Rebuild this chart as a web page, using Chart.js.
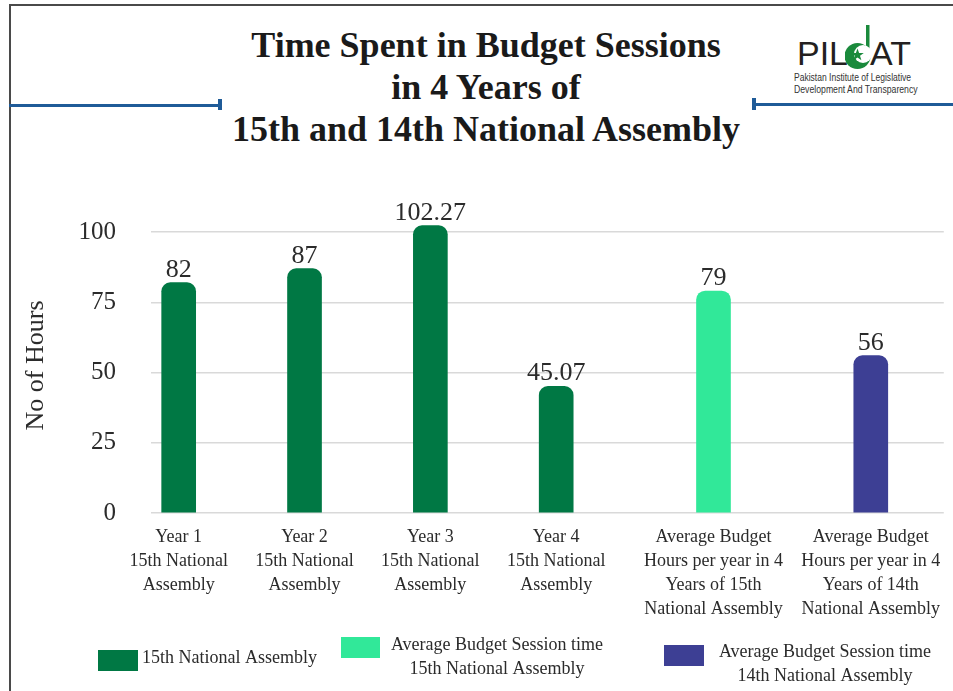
<!DOCTYPE html>
<html>
<head>
<meta charset="utf-8">
<script src="https://cdn.jsdelivr.net/npm/chart.js@4/dist/chart.umd.min.js"></script>
<style>
  body { margin: 0; background: #fff; }
  #wrap { position: relative; width: 953px; height: 691px; overflow: hidden; }
  .frame { position: absolute; left: 9px; top: 4px; width: 980px; height: 720px; border-left: 2px solid #4a4a4a; border-top: 2px solid #4a4a4a; }
  .title { position: absolute; left: 0; top: 24px; width: 972px; text-align: center; font: bold 36px/42px 'Liberation Serif', 'Times New Roman', serif; color: #1a1a1a; }
  .rule { position: absolute; background: #1f5b98; }
  .logo-txt { position: absolute; top: 36px; font: 34px/34px 'Liberation Sans', Arial, sans-serif; color: #231f20; }
  .logo-sub { position: absolute; left: 794px; font: 11px/11px 'Liberation Sans', Arial, sans-serif; color: #333; white-space: nowrap; transform-origin: 0 0; }
  canvas { position: absolute; left: 0; top: 0; }
</style>
</head>
<body>
<div id="wrap">
  <div class="frame"></div>
  <div class="title">Time Spent in Budget Sessions<br>in 4 Years of<br>15th and 14th National Assembly</div>

  <div class="rule" style="left:9px;top:104px;width:212px;height:3px"></div>
  <div class="rule" style="left:218px;top:99px;width:4px;height:11px"></div>
  <div class="rule" style="left:752px;top:98px;width:4px;height:12px"></div>
  <div class="rule" style="left:754px;top:103px;width:199px;height:3px"></div>

  <div class="logo-txt" style="left:797px">PIL</div>
  <svg style="position:absolute;left:845px;top:24px" width="28" height="48" viewBox="0 0 28 48">
    <rect x="21" y="1" width="3.5" height="26" fill="#1a8a3c"/>
    <circle cx="12.5" cy="32" r="13" fill="#1a8a3c"/>
    <circle cx="18" cy="30" r="9" fill="#fff"/>
    <polygon points="12.5,24.5 14.1,29 18.8,29 15,31.8 16.4,36.3 12.5,33.6 8.6,36.3 10,31.8 6.2,29 10.9,29" fill="#1a8a3c"/>
  </svg>
  <div class="logo-txt" style="left:870px">AT</div>
  <div class="logo-sub" style="top:72px" data-w="117">Pakistan Institute of Legislative</div>
  <div class="logo-sub" style="top:84px" data-w="124">Development And Transparency</div>

  <canvas id="budgetChart" width="953" height="691"></canvas>
</div>

<script>
// squeeze the logo sub lines to the narrow width of the original
document.querySelectorAll('.logo-sub').forEach(el => {
  el.style.transform = 'scaleX(' + (el.dataset.w / el.offsetWidth) + ')';
});

const categories = [
  ['Year 1', '15th National', 'Assembly'],
  ['Year 2', '15th National', 'Assembly'],
  ['Year 3', '15th National', 'Assembly'],
  ['Year 4', '15th National', 'Assembly'],
  ['Average Budget', 'Hours per year in 4', 'Years of 15th', 'National Assembly'],
  ['Average Budget', 'Hours per year in 4', 'Years of 14th', 'National Assembly']
];
const yearHours = [82, 87, 102.27, 45.07];
const avg15Hours = [79];
const avg14Hours = [56];
const yTicks = [0, 25, 50, 75, 100];
const legendLabels = [
  ['15th National Assembly'],
  ['Average Budget Session time', '15th National Assembly'],
  ['Average Budget Session time', '14th National Assembly']
];

const serif = "'Liberation Serif', 'Times New Roman', serif";
const textColor = '#2b2b2b';

// categories sit on a linear axis; the two average bars get a little extra room
const groupGap = 0.25;
const slot = i => i + Math.max(0, i - yearHours.length + 1) * groupGap;

const yearPoints = yearHours.map((v, i) => ({ x: slot(i), y: v }));
const avg15Points = avg15Hours.map(v => ({ x: slot(yearHours.length), y: v }));
const avg14Points = avg14Hours.map(v => ({ x: slot(yearHours.length + 1), y: v }));

const valueLabels = {
  id: 'valueLabels',
  afterDatasetsDraw(chart) {
    const ctx = chart.ctx;
    ctx.save();
    ctx.font = '26px ' + serif;
    ctx.fillStyle = textColor;
    ctx.textAlign = 'center';
    ctx.textBaseline = 'alphabetic';
    chart.data.datasets.forEach((ds, d) => {
      chart.getDatasetMeta(d).data.forEach((bar, i) => {
        ctx.fillText(String(ds.data[i].y), bar.x, bar.y - 6);
      });
    });
    ctx.restore();
  }
};

// legend laid out like the original: boxes with one or two centred lines
const boxLegend = {
  id: 'boxLegend',
  afterDraw(chart) {
    const ctx = chart.ctx;
    const spots = [
      { box: [98, 650, 40, 21], tx: 142, ty: 658, align: 'left' },
      { box: [341, 637, 39, 21], tx: 497, ty: 645, align: 'center' },
      { box: [664, 645, 40, 21], tx: 825, ty: 652, align: 'center' }
    ];
    ctx.save();
    ctx.font = '18px ' + serif;
    ctx.textBaseline = 'middle';
    chart.data.datasets.forEach((ds, d) => {
      const s = spots[d];
      ctx.fillStyle = ds.backgroundColor;
      ctx.fillRect(s.box[0], s.box[1], s.box[2], s.box[3]);
      ctx.fillStyle = textColor;
      ctx.textAlign = s.align;
      legendLabels[d].forEach((line, k) => ctx.fillText(line, s.tx, s.ty + k * 24));
    });
    ctx.restore();
  }
};

const barStyle = { barThickness: 34, borderRadius: 9, borderSkipped: 'start', grouped: false };

new Chart(document.getElementById('budgetChart'), {
  type: 'bar',
  data: {
    datasets: [
      { label: legendLabels[0].join(' '), data: yearPoints, backgroundColor: '#007844', ...barStyle },
      { label: legendLabels[1].join(' '), data: avg15Points, backgroundColor: '#31e899', ...barStyle },
      { label: legendLabels[2].join(' '), data: avg14Points, backgroundColor: '#3d3f94', ...barStyle }
    ]
  },
  plugins: [valueLabels, boxLegend],
  options: {
    responsive: false,
    animation: false,
    layout: { padding: { left: 0, right: 8, top: 218, bottom: 58 } },
    plugins: { legend: { display: false }, tooltip: { enabled: false } },
    scales: {
      x: {
        type: 'linear',
        offset: false,
        min: -0.22,
        max: 6.08,
        afterBuildTicks: s => { s.ticks = categories.map((c, i) => ({ value: slot(i) })); },
        afterFit: s => { s.height = 120; },
        grid: { display: false, drawTicks: false },
        border: { display: false },
        ticks: {
          callback: (v, i) => categories[i],
          autoSkip: false,
          maxRotation: 0,
          padding: 12,
          color: textColor,
          font: { family: serif, size: 18, lineHeight: 1.333 }
        }
      },
      y: {
        min: 0,
        max: 105,
        afterBuildTicks: s => { s.ticks = yTicks.map(v => ({ value: v })); },
        afterFit: s => { s.width = 151; },
        grid: { color: '#d9d9d9', lineWidth: 1.5, drawTicks: false },
        border: { display: false },
        ticks: { padding: 35, color: textColor, font: { family: serif, size: 25 } },
        title: {
          display: true,
          text: 'No of Hours',
          color: textColor,
          padding: { top: 21, bottom: 0 },
          font: { family: serif, size: 26 }
        }
      }
    }
  }
});
</script>
</body>
</html>
